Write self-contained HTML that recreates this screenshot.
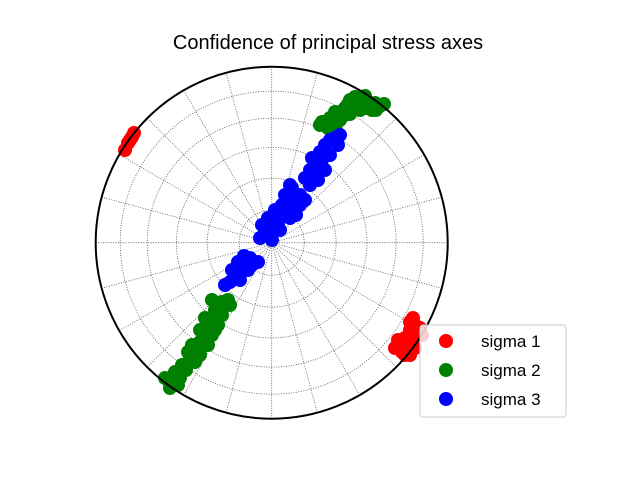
<!DOCTYPE html>
<html><head><meta charset="utf-8"><style>
body{margin:0;background:#fff;}
svg{display:block;font-family:"Liberation Sans","DejaVu Sans",sans-serif;}
</style></head><body>
<svg id="chart" width="640" height="480">
<text x="328" y="49" font-size="20" text-anchor="middle">Confidence of principal stress axes</text>
<g id="grid"></g>
<g id="marks"></g>
<circle cx="271.7" cy="242.7" r="176" fill="none" stroke="#000" stroke-width="2"/>
<g id="legend">
<rect x="420" y="325" width="146" height="92" rx="3" fill="#fff" fill-opacity="0.8" stroke="#ccc"/>
</g>
</svg>
<script>
const seriesNames=["sigma 1","sigma 2","sigma 3"];
const seriesColors=["#ff0000","#008000","#0000ff"];
const sigma1X=[125,128,132,134,130,400,405,410,415,408,398,412,418,405,420,395,402,410,415,422,410,413];
const sigma1Y=[150,143,137,133,140,345,338,330,325,350,340,342,332,355,328,348,352,355,348,335,322,318];
const sigma2X=[322,330,335,345,350,355,362,368,375,380,372,360,350,340,328,365,320,332,340,348,358,376,384,366,354,343,336,168,175,182,190,195,200,205,210,215,222,228,212,205,178,188,170,165,180,186,195,200,208,212,218,222,230,200,215,192];
const sigma2Y=[122,118,112,108,100,97,100,102,103,106,110,110,114,120,128,96,125,125,112,104,104,110,104,108,108,116,130,380,372,365,358,350,342,330,322,310,302,300,300,318,385,352,388,378,378,370,362,355,345,335,325,315,305,330,330,345];
const sigma3X=[230,235,240,245,250,238,252,262,268,275,282,288,292,285,278,295,300,305,310,315,320,325,330,335,322,315,260,270,290,225,240,248,258,232,244,265,272,280,290,296,300,292,305,310,318,325,320,312,330,338,340,272,280,268,285];
const sigma3Y=[282,275,268,262,258,262,265,225,218,210,205,198,188,215,225,208,195,178,170,162,152,145,140,138,160,175,238,235,185,285,280,270,262,270,256,230,225,218,218,215,205,200,200,185,180,170,165,158,155,145,135,240,230,228,195];
const ringDips=[15,30,45,60,75];
const spokeAz=[];for(let a=0;a<360;a+=15)spokeAz.push(a);
const CX=271.7,CY=242.7,R=176;
const sx=v=>CX+((v-CX)/R)*R, sy=v=>CY+((v-CY)/R)*R;
const ns="http://www.w3.org/2000/svg";
const grid=document.getElementById('grid');
ringDips.forEach(d=>{
 const c=document.createElementNS(ns,'circle');
 c.setAttribute('cx',CX);c.setAttribute('cy',CY);
 c.setAttribute('r',R*Math.SQRT2*Math.sin(d/2*Math.PI/180));
 c.setAttribute('fill','none');c.setAttribute('stroke','#555');c.setAttribute('stroke-width','0.8');c.setAttribute('stroke-dasharray','1,1.5');
 
 
 grid.appendChild(c);
});
spokeAz.forEach(a=>{
 const l=document.createElementNS(ns,'line');const t=a*Math.PI/180;
 l.setAttribute('x1',CX);l.setAttribute('y1',CY);
 l.setAttribute('x2',CX+R*Math.sin(t));l.setAttribute('y2',CY-R*Math.cos(t));
 l.setAttribute('stroke','#555');l.setAttribute('stroke-width','0.8');l.setAttribute('stroke-dasharray','1,1.5');
 
 
 grid.appendChild(l);
});
const marks=document.getElementById('marks');
[[sigma1X,sigma1Y],[sigma2X,sigma2Y],[sigma3X,sigma3Y]].forEach((s,i)=>{
 s[0].forEach((x,j)=>{
  const c=document.createElementNS(ns,'circle');
  c.setAttribute('cx',sx(x));c.setAttribute('cy',sy(s[1][j]));c.setAttribute('r',7);
  c.setAttribute('fill',seriesColors[i]);
  
  
  marks.appendChild(c);
 });
});
const lg=document.getElementById('legend');
seriesNames.forEach((n,i)=>{
 const y=341+i*29;
 const c=document.createElementNS(ns,'circle');
 c.setAttribute('cx',446);c.setAttribute('cy',y);c.setAttribute('r',7);c.setAttribute('fill',seriesColors[i]);
 
 
 lg.appendChild(c);
 const t=document.createElementNS(ns,'text');
 t.setAttribute('x',481);t.setAttribute('y',y+6);t.setAttribute('font-size','17');t.textContent=n;
 
 
 lg.appendChild(t);
});
</script>
</body></html>
